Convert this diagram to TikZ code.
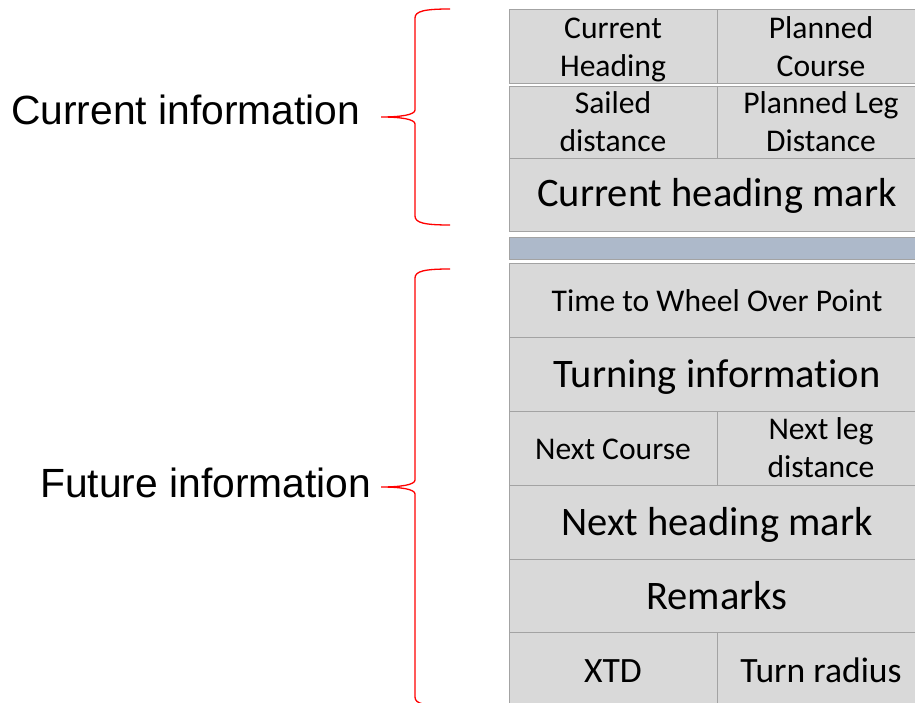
\documentclass[tikz,border=0pt]{standalone}
\usepackage{fontspec}
\setmainfont{Carlito}[RawFeature={-liga;-clig;-calt;-dlig}]
\newfontfamily\arialf{Liberation Sans}
\definecolor{cellfill}{HTML}{D9D9D9}
\definecolor{cellline}{HTML}{A3A3A3}
\definecolor{barfill}{HTML}{ADB9CA}
\begin{document}
\begin{tikzpicture}[x=1pt,y=-1pt,
 cell/.style={draw=cellline, fill=cellfill, line width=0.9pt},
 bar/.style={draw=cellline, fill=barfill, line width=0.9pt},
 sm/.style={font=\fontsize{31.6}{38}\selectfont, inner sep=0pt, anchor=base},
 lg/.style={font=\fontsize{40.5}{48}\selectfont, inner sep=0pt, anchor=base},
 md/.style={font=\fontsize{35.6}{42}\selectfont, inner sep=0pt, anchor=base},
 lab/.style={font=\arialf\fontsize{40.8}{48}\selectfont, inner sep=0pt, anchor=base west},
 brace/.style={draw=red, line width=1.3pt}]
\useasboundingbox (0,0) rectangle (915,703);
\clip (0,0) rectangle (915,703);
% cells
\draw[cell] (509,9) rectangle (717,83);
\draw[cell] (717,9) rectangle (925,83);
\draw[cell] (509,86) rectangle (717,158);
\draw[cell] (717,86) rectangle (925,158);
\draw[cell] (509,158) rectangle (925,231);
\draw[bar]  (509,237) rectangle (925,259.5);
\draw[cell] (509,263) rectangle (925,337.5);
\draw[cell] (509,337.5) rectangle (925,411);
\draw[cell] (509,411) rectangle (717,485);
\draw[cell] (717,411) rectangle (925,485);
\draw[cell] (509,485) rectangle (925,559);
\draw[cell] (509,559) rectangle (925,632);
\draw[cell] (509,632) rectangle (717,710);
\draw[cell] (717,632) rectangle (925,710);
% texts
\node[sm] (ch) at (613,38.3) {\begin{tabular}[t]{@{}c@{}}Current\\Heading\end{tabular}};
\node[sm] (pc) at (821,38.3) {\begin{tabular}[t]{@{}c@{}}Planned\\Course\end{tabular}};
\node[sm] (sd) at (613,113.5) {\begin{tabular}[t]{@{}c@{}}Sailed\\distance\end{tabular}};
\node[sm] (pl) at (821,113.5) {\begin{tabular}[t]{@{}c@{}}Planned Leg\\Distance\end{tabular}};
\node[lg] (chm) at (717,206.5) {Current heading mark};
\node[sm] (tw) at (717,311) {Time to Wheel Over Point};
\node[lg] (ti) at (717,387.5) {Turning informat\kern0pt ion};
\node[sm] (nc) at (613,459.5) {Next Course};
\node[sm] (nl) at (821,439.5) {\begin{tabular}[t]{@{}c@{}}Next leg\\distance\end{tabular}};
\node[lg] (nhm) at (717,535) {Next heading mark};
\node[lg] (rm) at (717,609) {Remarks};
\node[md] (xtd) at (613,682) {XTD};
\node[md] (tr) at (821,682) {Turn radius};
% labels
\node[lab] (cur) at (11,125) {Current information};
\node[lab] (fut) at (40,497) {Future information};
% braces
\draw[brace] (450,9) .. controls (425,9) and (415,11) .. (415,18) -- (415,110)
  .. controls (415,115) and (400,117) .. (381,117)
  .. controls (400,117) and (415,119) .. (415,124) -- (415,216)
  .. controls (415,223) and (425,225) .. (450,225);
\draw[brace] (450,269) .. controls (425,269) and (415,271) .. (415,278) -- (415,480)
  .. controls (415,485) and (400,487) .. (381,487)
  .. controls (400,487) and (415,489) .. (415,494) -- (415,697)
  .. controls (415,704) and (425,706) .. (450,706);
\end{tikzpicture}
\end{document}
